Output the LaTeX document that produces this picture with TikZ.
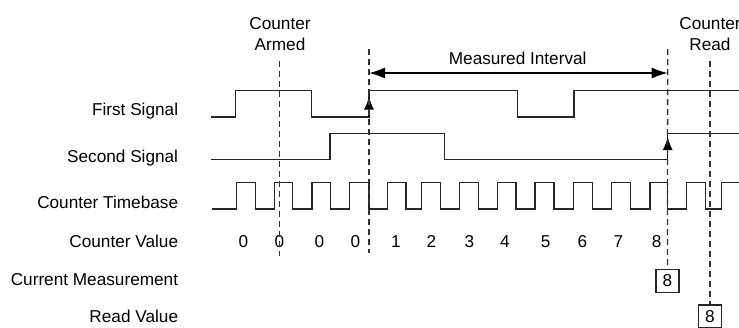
\documentclass[tikz,border=0pt]{standalone}
\usepackage{fontspec}
\setmainfont{Liberation Sans}
\usetikzlibrary{arrows.meta}
\begin{document}
\begin{tikzpicture}[x=1pt,y=-1pt,
  lbl/.style={anchor=base east,inner sep=0pt,font=\fontsize{17.2}{20}\selectfont},
  txt/.style={anchor=base,inner sep=0pt,font=\fontsize{17.2}{20}\selectfont},
  wave/.style={line width=1.4pt,color=black!85},
  guide/.style={line width=1.3pt,color=black!80,dash pattern=on 6pt off 4pt},
  valbox/.style={draw=black!85,line width=1.2pt,minimum size=23pt,inner sep=0pt,font=\fontsize{17.2}{20}\selectfont},
  edgearrow/.style={-{Latex[length=13pt,width=10pt]},line width=1.4pt,color=black},
  spanarrow/.style={{Latex[length=16pt,width=11pt]}-{Latex[length=16pt,width=11pt]},line width=1.4pt,color=black},
  ]
\useasboundingbox (0,0) rectangle (739,327);
\clip (0,0) rectangle (739,327);

% row labels
\node[lbl] (lfirst) at (178.3,115) {First Signal};
\node[lbl] (lsecond) at (178.3,162) {Second Signal};
\node[lbl] (ltime) at (178.3,208) {Counter Timebase};
\node[lbl] (lvalue) at (178.3,247.8) {Counter Value};
\node[lbl] (lcur) at (178.3,285) {Current Measurement};
\node[lbl] (lread) at (178.3,322) {Read Value};

% top labels
\node[txt] (armed1) at (280,29) {Counter};
\node[txt] (armed2) at (280,50) {Armed};
\node[txt] (read1) at (710,29) {Counter};
\node[txt] (read2) at (710,50) {Read};
\node[txt] (meas) at (517.7,64) {Measured Interval};

% waveforms
\draw[wave] (211,117) -| (235.7,90.7) -| (311.7,117) -| (369,90.7) -| (517.7,117) -| (574,90.7) -- (739,90.7);
\draw[wave] (211,159.7) -| (330,133.3) -| (444.5,159.7) -| (667.7,133.3) -- (739,133.3);
\draw[wave] (212,209) -| (236.7,182.7) -| (255.3,209) -| (274.3,182.7) -| (292.7,209)
  -| (312,182.7) -| (330.7,209) -| (349.3,182.7) -| (369,209) -| (387.3,182.7) -| (406,209)
  -| (421.7,182.7) -| (440.7,209) -| (459.5,182.7) -| (478.7,209) -| (497.3,182.7) -| (516,209)
  -| (535,182.7) -| (554,209) -| (573.3,182.7) -| (592.7,209) -| (611.3,182.7) -| (630.7,209)
  -| (650,182.7) -| (667.7,209) -| (686.7,182.7) -| (705.7,209) -| (721.7,182.7) -- (739,182.7);

% edge arrows
\coordinate (e1b) at (369,117);
\coordinate (e1t) at (369,96.5);
\coordinate (e2b) at (667.7,159.7);
\coordinate (e2t) at (667.7,137);
\draw[edgearrow] (e1b) -- (e1t);
\draw[edgearrow] (e2b) -- (e2t);

% counter values
\foreach \x/\v [count=\i] in {243.3/0,279.3/0,319.3/0,355.3/0,396/1,431.3/2,469.3/3,505/4,545.7/5,582.3/6,618.3/7,656.7/8}
  \node[txt] (cv\i) at (\x,247.8) {\v};

% value boxes
\node[valbox] (box1) at (667.4,280.7) {8};
\node[valbox] (box2) at (710,316.5) {8};

% guide lines
\coordinate (g1t) at (279.3,61);
\coordinate (g1b) at (279.3,256);
\coordinate (g2t) at (369,49);
\coordinate (g2b) at (369,253);
\coordinate (g3t) at (667.7,49);
\coordinate (g4t) at (710,61);
\draw[guide] (g1t) -- (g1b);
\draw[guide] (g2t) -- (g2b);
\draw[guide] (g3t) -- (box1.north);
\draw[guide] (g4t) -- (box2.north);

% measured interval
\coordinate (m1) at (369,73);
\coordinate (m2) at (667.7,73);
\draw[spanarrow] (m1) -- (m2);
\end{tikzpicture}
\end{document}
